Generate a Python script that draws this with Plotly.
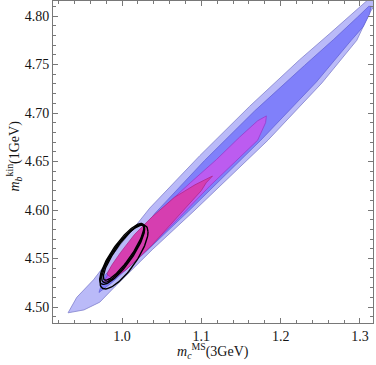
import numpy as np
import plotly.graph_objects as go

# outer (light blue) region outline
light_x = [0.932, 0.943, 0.964, 0.997, 1.035, 1.098, 1.161, 1.224, 1.262, 1.293, 1.309, 1.317,
           1.319, 1.312, 1.296, 1.252, 1.208, 1.184, 1.092, 1.038, 0.991, 0.972, 0.952]
light_y = [4.494, 4.510, 4.528, 4.563, 4.602, 4.656, 4.707, 4.755, 4.782, 4.805, 4.816, 4.820,
           4.812, 4.803, 4.775, 4.731, 4.693, 4.672, 4.600, 4.559, 4.521, 4.505, 4.497]

# blue region outline
blue_x = [0.971, 0.977, 1.004, 1.042, 1.104, 1.167, 1.230, 1.267, 1.297, 1.311, 1.314,
          1.312, 1.304, 1.289, 1.245, 1.199, 1.175, 1.084, 1.030, 0.987]
blue_y = [4.515, 4.531, 4.558, 4.597, 4.651, 4.702, 4.749, 4.776, 4.799, 4.810, 4.810,
          4.802, 4.789, 4.775, 4.732, 4.693, 4.672, 4.599, 4.557, 4.525]

# violet region outline
violet_x = [0.977, 0.987, 1.004, 1.023, 1.035, 1.054, 1.086, 1.119, 1.148, 1.171, 1.182,
            1.181, 1.171, 1.142, 1.111, 1.072, 1.035, 1.004, 0.985]
violet_y = [4.526, 4.540, 4.557, 4.574, 4.588, 4.604, 4.628, 4.652, 4.675, 4.692, 4.697,
            4.690, 4.672, 4.649, 4.625, 4.592, 4.562, 4.538, 4.526]

# magenta region outline
mag_x = [0.981, 0.987, 0.998, 1.016, 1.038, 1.066, 1.092, 1.114,
         1.106, 1.100, 1.080, 1.066, 1.038, 1.006, 0.988]
mag_y = [4.534, 4.543, 4.556, 4.575, 4.593, 4.613, 4.626, 4.635,
         4.628, 4.620, 4.602, 4.589, 4.564, 4.539, 4.529]

# black contour ellipses: centre, half-widths, correlation
ell_cx = [1.0025, 1.00025, 1.00123, 1.00195]
ell_cy = [4.5515, 4.5547, 4.5554, 4.5563]
ell_sx = [0.0303, 0.02838, 0.0269, 0.02553]
ell_sy = [0.0329, 0.03141, 0.03003, 0.02868]
ell_rho = [0.786, 0.839, 0.863, 0.880]

x_ticks = [1.0, 1.1, 1.2, 1.3]
x_labels = ["1.0", "1.1", "1.2", "1.3"]
y_ticks = [4.50, 4.55, 4.60, 4.65, 4.70, 4.75, 4.80]
y_labels = ["4.50", "4.55", "4.60", "4.65", "4.70", "4.75", "4.80"]

SERIF = 'Liberation Serif, Times New Roman, DejaVu Serif, serif'
FRAME = 'rgb(120,120,120)'

fig = go.Figure()

regions = [
    (light_x, light_y, 'rgb(186,186,248)', 'rgb(130,130,205)'),
    (blue_x, blue_y, 'rgb(128,128,250)', 'rgb(100,100,215)'),
    (violet_x, violet_y, 'rgb(188,92,240)', 'rgb(150,60,205)'),
    (mag_x, mag_y, 'rgb(214,62,176)', 'rgb(175,40,140)'),
]
for xs, ys, fc, lc in regions:
    fig.add_trace(go.Scatter(x=xs + xs[:1], y=ys + ys[:1], mode='lines',
                             fill='toself', fillcolor=fc,
                             line=dict(color=lc, width=0.8),
                             hoverinfo='skip'))

t = np.linspace(0, 2 * np.pi, 120)
for cx, cy, sx, sy, r in zip(ell_cx, ell_cy, ell_sx, ell_sy, ell_rho):
    ex = cx + sx * np.cos(t)
    ey = cy + sy * (r * np.cos(t) + np.sqrt(1 - r ** 2) * np.sin(t))
    fig.add_trace(go.Scatter(x=ex, y=ey, mode='lines',
                             line=dict(color='black', width=1.4),
                             hoverinfo='skip'))

axis_common = dict(
    showgrid=False, zeroline=False, automargin=False,
    showline=True, linecolor=FRAME, linewidth=1,
    mirror='ticks', ticks='inside', ticklen=5, tickwidth=1,
    tickcolor=FRAME,
    tickfont=dict(family=SERIF, size=14, color='rgb(20,20,20)'),
)

fig.update_layout(
    width=376, height=365,
    margin=dict(l=53, r=3, t=1, b=42),
    plot_bgcolor='white', paper_bgcolor='white',
    showlegend=False,
    xaxis=dict(range=[0.913, 1.3164], tickvals=x_ticks, ticktext=x_labels,
               minor=dict(ticks='inside', dtick=0.02, tick0=1.0, ticklen=3,
                          tickcolor=FRAME),
               **axis_common),
    yaxis=dict(range=[4.4835, 4.8155], tickvals=y_ticks, ticktext=y_labels,
               minor=dict(ticks='inside', dtick=0.01, tick0=4.5, ticklen=3,
                          tickcolor=FRAME),
               **axis_common),
)

fig.add_annotation(xref='paper', yref='paper', x=0.5, y=-0.086,
                   xanchor='center', yanchor='middle', showarrow=False,
                   text='<i>m</i><sub><i>c</i></sub><sup>MS</sup>(3GeV)',
                   font=dict(family=SERIF, size=14, color='rgb(20,20,20)'))
fig.add_annotation(xref='paper', yref='paper', x=-0.122, y=0.52,
                   xanchor='center', yanchor='middle', showarrow=False, textangle=-90,
                   text='<i>m</i><sub><i>b</i></sub><sup>kin</sup>(1GeV)',
                   font=dict(family=SERIF, size=14, color='rgb(20,20,20)'))

# page body has a default margin; drop it so the figure sits at the corner
fig.write_html("out.html", config={'displayModeBar': False},
               post_script="document.body.style.margin='0';")
